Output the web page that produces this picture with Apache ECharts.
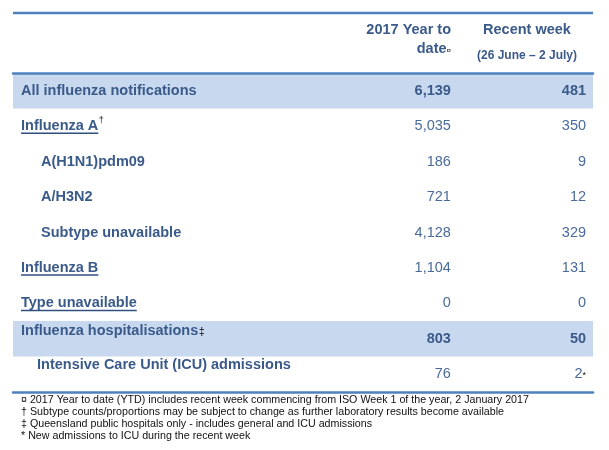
<!DOCTYPE html>
<html>
<head>
    <meta charset="utf-8">
    <title>Influenza notifications</title>
    <script src="https://cdn.jsdelivr.net/npm/echarts@6/dist/echarts.min.js"></script>
</head>
<body style="margin:0;background:#fff;">
    <div id="main" style="width: 609px;height:450px;"></div>
    <script type="text/javascript">
// table content
var rowLabels = [
    'All influenza notifications',
    'Influenza A',
    'A(H1N1)pdm09',
    'A/H3N2',
    'Subtype unavailable',
    'Influenza B',
    'Type unavailable',
    'Influenza hospitalisations',
    'Intensive Care Unit (ICU) admissions'
];
var ytdValues = [6139, 5035, 186, 721, 4128, 1104, 0, 803, 76];
var weekValues = [481, 350, 9, 12, 329, 131, 0, 50, 2];
var labelMarks = ['', '\u2020', '', '', '', '', '', '\u2021', ''];
var weekMarks = ['', '', '', '', '', '', '', '', '*'];
var ytdHeader = ['2017 Year to', 'date'];
var weekHeader = ['Recent week', '(26 June \u2013 2 July)'];
var footnotes = [
    '\u00a4 2017 Year to date (YTD) includes recent week commencing from ISO Week 1 of the year, 2 January 2017',
    '\u2020 Subtype counts/proportions may be subject to change as further laboratory results become available',
    '\u2021 Queensland public hospitals only - includes general and ICU admissions',
    '* New admissions to ICU during the recent week'
];
var shadedRows = [0, 7];
var boldRows = [0, 7];
var underlinedRows = [1, 5, 6];

// layout
var rowIndent = [8, 8, 28, 28, 28, 8, 8, 8, 24];
var labelShift = [0, 0, 0, 0, 0, 0, 0, -8, -9];
var ytdRight = 0.755, weekRight = 0.988;

var FONT = '"Liberation Sans", Arial, sans-serif';
var labelColor = '#3a5a8a';
var valueColor = '#4b6b9a';
var lineColor = '#4f81bd';

var mctx = document.createElement('canvas').getContext('2d');
function textWidth(t, font) {
    mctx.font = font;
    return mctx.measureText(t).width;
}
function fmt(v) {
    return v.toLocaleString('en-US');
}

var myChart = echarts.init(document.getElementById('main'));

var option = {
    backgroundColor: '#fff',
    animation: false,
    grid: {left: 13, right: 16, top: 73, bottom: 58},
    xAxis: [{
        type: 'value', min: 0, max: 1, z: 5,
        axisLine: {show: true, lineStyle: {color: lineColor, width: 2.5}},
        axisTick: {show: false}, axisLabel: {show: false}, splitLine: {show: false}
    }, {
        type: 'value', min: 0, max: 1, position: 'top', z: 5,
        axisLine: {show: true, lineStyle: {color: lineColor, width: 2.5}},
        axisTick: {show: false}, axisLabel: {show: false}, splitLine: {show: false}
    }],
    yAxis: {
        type: 'category', inverse: true,
        data: rowLabels,
        axisLine: {show: false}, axisTick: {show: false},
        axisLabel: {show: false}, splitLine: {show: false}
    },
    graphic: [
        {type: 'line', z: 10, shape: {x1: 13, y1: 13, x2: 593, y2: 13},
         style: {stroke: lineColor, lineWidth: 2.5}},
        {type: 'text', x: 451, y: 30, style: {text: ytdHeader[0], font: 'bold 14.5px ' + FONT,
            fill: labelColor, align: 'right', verticalAlign: 'middle'}},
        {type: 'text', x: 451, y: 49, style: {text: '{d|' + ytdHeader[1] + '}{m|\u00a4}',
            align: 'right', verticalAlign: 'middle',
            rich: {d: {font: 'bold 14.5px ' + FONT, fill: labelColor},
                   m: {font: '8px ' + FONT, fill: '#111', padding: [3, 0, 0, 0]}}}},
        {type: 'text', x: 527, y: 30, style: {text: weekHeader[0], font: 'bold 14.5px ' + FONT,
            fill: labelColor, align: 'center', verticalAlign: 'middle'}},
        {type: 'text', x: 527, y: 56, style: {text: weekHeader[1], font: 'bold 12px ' + FONT,
            fill: labelColor, align: 'center', verticalAlign: 'middle'}}
    ].concat(footnotes.map(function (t, i) {
        return {type: 'text', x: 21, y: 400 + i * 12, style: {text: t, font: '10.7px ' + FONT,
            fill: '#111', align: 'left', verticalAlign: 'middle'}};
    })),
    series: [{
        type: 'bar',
        barWidth: '100%',
        z: 1,
        silent: true,
        itemStyle: {color: '#c8d9ef'},
        data: rowLabels.map(function (l, i) {
            return shadedRows.indexOf(i) >= 0 ? 1 : '-';
        })
    }, {
        type: 'custom',
        z: 4,
        silent: true,
        encode: {x: 0, y: 1},
        data: rowLabels.map(function (l, i) { return [0, i]; }),
        renderItem: function (params, api) {
            var i = api.value(1);
            var base = api.coord([0, i]);
            var y = base[1];
            var bold = boldRows.indexOf(i) >= 0;
            var labelFont = 'bold 14.5px ' + FONT;
            var valFont = (bold ? 'bold ' : '') + '14.5px ' + FONT;
            var valFill = bold ? labelColor : valueColor;
            var lx = base[0] + rowIndent[i];
            var ly = y + labelShift[i];
            var children = [];
            children.push({type: 'text', x: lx, y: ly, style: {
                text: rowLabels[i], font: labelFont, fill: labelColor,
                align: 'left', verticalAlign: 'middle'}});
            var w = textWidth(rowLabels[i], labelFont);
            if (labelMarks[i]) {
                var sup = i === 1;
                children.push({type: 'text', x: lx + w + 0.5, y: ly + (sup ? -6 : 1), style: {
                    text: labelMarks[i], font: (sup ? '9px ' : '11px ') + FONT, fill: '#111',
                    align: 'left', verticalAlign: 'middle'}});
            }
            if (underlinedRows.indexOf(i) >= 0) {
                children.push({type: 'line', shape: {x1: lx, y1: ly + 7, x2: lx + w, y2: ly + 7},
                    style: {stroke: '#2f4f7f', lineWidth: 1.5}});
            }
            children.push({type: 'text', x: api.coord([ytdRight, i])[0], y: y, style: {
                text: fmt(ytdValues[i]), font: valFont, fill: valFill,
                align: 'right', verticalAlign: 'middle'}});
            var wx = api.coord([weekRight, i])[0];
            if (weekMarks[i]) {
                children.push({type: 'text', x: wx, y: y + 1, style: {
                    text: weekMarks[i], font: '9px ' + FONT, fill: '#111',
                    align: 'right', verticalAlign: 'middle'}});
                wx -= textWidth(weekMarks[i], '9px ' + FONT);
            }
            children.push({type: 'text', x: wx, y: y, style: {
                text: fmt(weekValues[i]), font: valFont, fill: valFill,
                align: 'right', verticalAlign: 'middle'}});
            return {type: 'group', children: children};
        }
    }]
};

myChart.setOption(option);
    </script>
</body>
</html>
